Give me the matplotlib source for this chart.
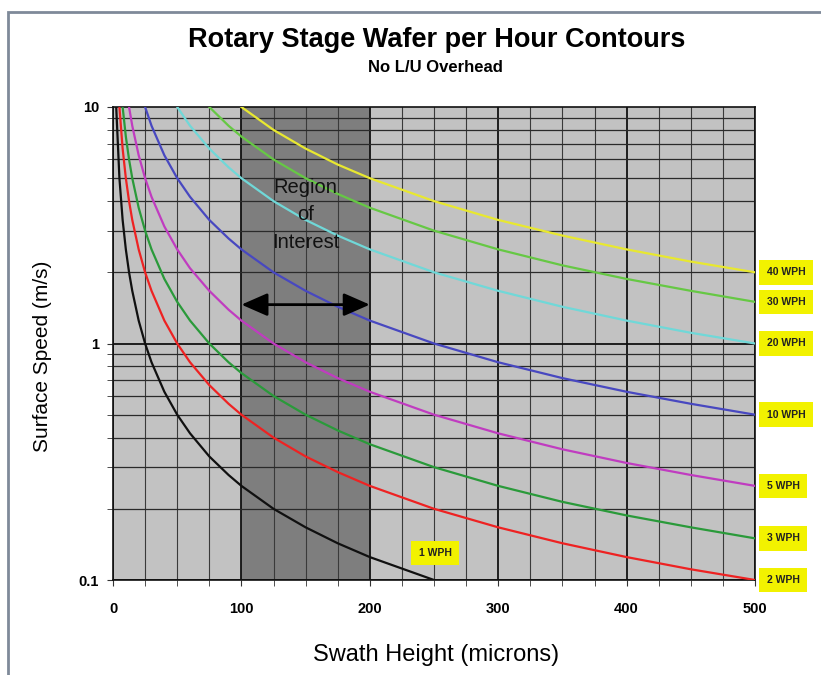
import matplotlib
matplotlib.use("Agg")
import matplotlib.pyplot as plt
from matplotlib.patches import Rectangle
from matplotlib.ticker import FixedLocator, NullFormatter
import matplotlib.transforms as mtransforms

plt.rcParams['font.family'] = ['Liberation Sans', 'DejaVu Sans']

# Swath height grid (microns)
swath = [2.5, 5, 7.5, 10, 12.5, 15, 20, 25, 30, 40, 50, 60, 75, 90, 100,
         125, 150, 175, 200, 250, 300, 350, 400, 450, 500]

# Surface speed (m/s)
wph_1 = [10, 5, 3.33, 2.5, 2, 1.67, 1.25, 1.0, 0.833, 0.625, 0.5, 0.417, 0.333, 0.278, 0.25,
         0.2, 0.167, 0.143, 0.125, 0.1, 0.083, 0.071, 0.0625, 0.056, 0.05]
wph_2 = [20, 10, 6.67, 5, 4, 3.33, 2.5, 2, 1.67, 1.25, 1, 0.833, 0.667, 0.556, 0.5,
         0.4, 0.333, 0.286, 0.25, 0.2, 0.167, 0.143, 0.125, 0.111, 0.1]
wph_3 = [30, 15, 10, 7.5, 6, 5, 3.75, 3, 2.5, 1.875, 1.5, 1.25, 1, 0.833, 0.75,
         0.6, 0.5, 0.429, 0.375, 0.3, 0.25, 0.214, 0.1875, 0.167, 0.15]
wph_5 = [50, 25, 16.7, 12.5, 10, 8.33, 6.25, 5, 4.17, 3.125, 2.5, 2.08, 1.67, 1.39, 1.25,
         1, 0.833, 0.714, 0.625, 0.5, 0.417, 0.357, 0.3125, 0.278, 0.25]
wph_10 = [100, 50, 33.3, 25, 20, 16.7, 12.5, 10, 8.33, 6.25, 5, 4.17, 3.33, 2.78, 2.5,
          2, 1.67, 1.43, 1.25, 1, 0.833, 0.714, 0.625, 0.556, 0.5]
wph_20 = [200, 100, 66.7, 50, 40, 33.3, 25, 20, 16.7, 12.5, 10, 8.33, 6.67, 5.56, 5,
          4, 3.33, 2.86, 2.5, 2, 1.67, 1.43, 1.25, 1.11, 1]
wph_30 = [300, 150, 100, 75, 60, 50, 37.5, 30, 25, 18.75, 15, 12.5, 10, 8.33, 7.5,
          6, 5, 4.29, 3.75, 3, 2.5, 2.14, 1.875, 1.67, 1.5]
wph_40 = [400, 200, 133, 100, 80, 66.7, 50, 40, 33.3, 25, 20, 16.7, 13.3, 11.1, 10,
          8, 6.67, 5.71, 5, 4, 3.33, 2.86, 2.5, 2.22, 2]

series = [wph_1, wph_2, wph_3, wph_5, wph_10, wph_20, wph_30, wph_40]
labels = ["1 WPH", "2 WPH", "3 WPH", "5 WPH", "10 WPH", "20 WPH", "30 WPH", "40 WPH"]
colors = ["#101010", "#ee2222", "#2a9a3a", "#c03cc0", "#4848c0", "#70d8d8", "#66c844", "#e8e830"]

x_ticks = [0, 100, 200, 300, 400, 500]
y_ticks = [0.1, 1, 10]
y_ticklabels = ["0.1", "1", "10"]
roi = [100, 200]

fig = plt.figure(figsize=(8.21, 6.75), dpi=100)
fig.patch.set_facecolor("white")
# figure frame
fig.add_artist(Rectangle((8 / 821, -0.1), 1.2, 1.1 - 12 / 675, transform=fig.transFigure,
                         fill=False, edgecolor="#7f8a99", lw=2))

ax = fig.add_axes([113 / 821, 1 - 580 / 675, 642 / 821, 473 / 675])
ax.set_facecolor("#c2c2c2")
ax.set_yscale("log")
ax.set_xlim(0, 500)
ax.set_ylim(0.1, 10)

# region of interest
ax.axvspan(roi[0], roi[1], color="#7e7e7e", zorder=0.5, lw=0)

# grid
for xv in range(0, 501, 25):
    if xv % 100 == 0:
        ax.axvline(xv, color="#111111", lw=1.3, zorder=1)
    else:
        ax.axvline(xv, color="#3a3a3a", lw=0.8, zorder=1)
for dec in [0.1, 1]:
    for m in range(1, 10):
        yv = dec * m
        if m == 1:
            ax.axhline(yv, color="#111111", lw=1.3, zorder=1)
        else:
            ax.axhline(yv, color="#2a2a2a", lw=0.9, zorder=1)

for ys, c in zip(series, colors):
    ax.plot(swath, ys, color=c, lw=1.6, zorder=3)

ax.set_xticks(x_ticks)
ax.xaxis.set_minor_locator(FixedLocator(list(range(0, 501, 25))))
ax.tick_params(axis="x", which="both", direction="out", length=4, color="#333333")
ax.tick_params(axis="x", which="major", labelsize=10.5, pad=12)
ax.set_yticks(y_ticks)
ax.set_yticklabels(y_ticklabels)
ax.yaxis.set_minor_formatter(NullFormatter())
ax.tick_params(axis="y", which="both", direction="out", length=4, color="#333333",
               labelsize=10.5, pad=6)
for lab in ax.get_xticklabels() + ax.get_yticklabels():
    lab.set_fontweight("bold")
for sp in ax.spines.values():
    sp.set_color("#111111")
    sp.set_linewidth(1.2)

# region of interest annotation
ax.text(150, 3.5, "Region\nof\nInterest", ha="center", va="center", fontsize=14.5,
        color="#111111", linespacing=1.55, zorder=4)
ax.annotate("", xy=(roi[0], 1.46), xytext=(roi[1], 1.46),
            arrowprops=dict(arrowstyle="<|-|>,head_length=0.8,head_width=0.35",
                            color="black", lw=2, mutation_scale=20, shrinkA=0, shrinkB=0),
            zorder=4)

# contour labels
trans = mtransforms.blended_transform_factory(ax.transAxes, ax.transData)
right_pos = {"2 WPH": 0.1, "3 WPH": 0.15, "5 WPH": 0.25, "10 WPH": 0.5,
             "20 WPH": 1.0, "30 WPH": 1.5, "40 WPH": 2.0}
for lab in labels[1:]:
    ax.text(1.018, right_pos[lab], lab, transform=trans, ha="left", va="center",
            fontsize=7.5, fontweight="bold", color="#222222", clip_on=False,
            bbox=dict(boxstyle="square,pad=0.7", fc="#f2f200", ec="none"))
ax.text(251, 0.13, labels[0], ha="center", va="center", fontsize=7.5, fontweight="bold",
        color="#222222", zorder=5,
        bbox=dict(boxstyle="square,pad=0.7", fc="#f2f200", ec="none"))

fig.text(0.532, 1 - 40 / 675, "Rotary Stage Wafer per Hour Contours", ha="center", va="center",
         fontsize=19.5, fontweight="bold")
fig.text(0.530, 1 - 67 / 675, "No L/U Overhead", ha="center", va="center",
         fontsize=12, fontweight="bold")
fig.text(0.531, 1 - 655 / 675, "Swath Height (microns)", ha="center", va="center", fontsize=17)
fig.text(42 / 821, 1 - 356 / 675, "Surface Speed (m/s)", ha="center", va="center",
         fontsize=15, rotation=90)

fig.savefig("out.png", dpi=100)
